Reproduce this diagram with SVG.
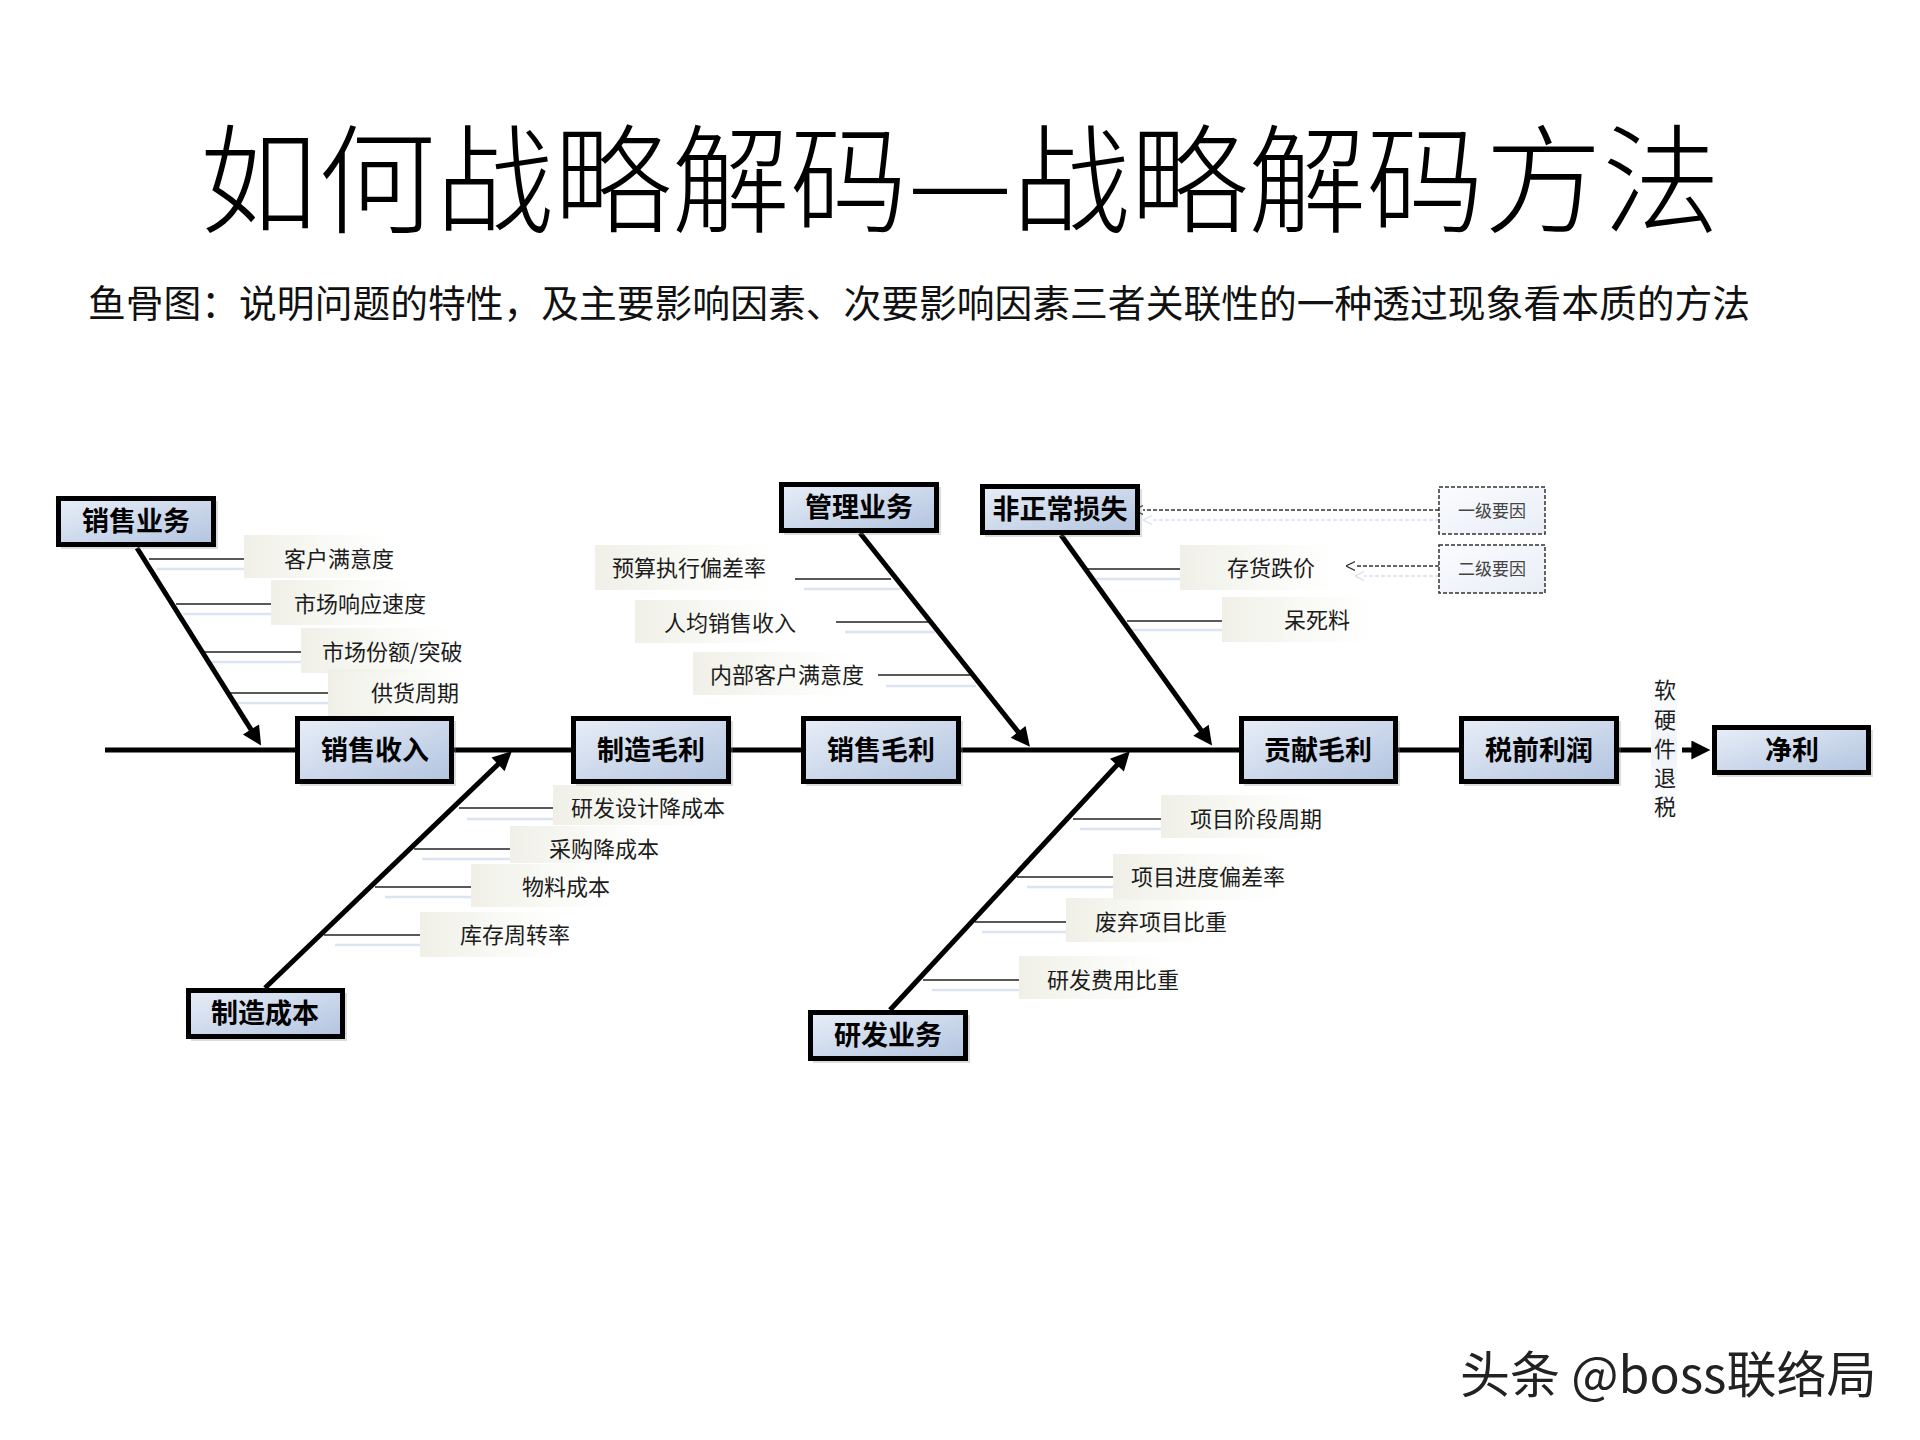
<svg xmlns="http://www.w3.org/2000/svg" width="1920" height="1440" viewBox="0 0 1920 1440">
<defs>
<style>
.t{font-family:"Noto Sans CJK SC","Liberation Sans",sans-serif;}
.title{font-size:118px;font-weight:300;fill:#000;}
.sub{font-size:38px;fill:#111;}
.box{fill:url(#boxGrad);stroke:#000;stroke-width:5;}
.shadow{fill:#8a8a8a;opacity:0.3;}
.bt{font-size:27px;font-weight:bold;fill:#000;text-anchor:middle;}
.lb{font-size:22px;fill:#1c1c1c;}
.lbg{fill:url(#labelGrad);}
.bl{stroke:#222;stroke-width:1.5;}
.bs{stroke:#dbe4f1;stroke-width:2.5;}
.bone{stroke:#000;stroke-width:5;fill:none;marker-end:url(#ah);}
.spine{stroke:#000;stroke-width:5;fill:none;}
.leg{fill:url(#legGrad);stroke:#333;stroke-width:1.5;stroke-dasharray:4 2;}
.lt{font-size:17px;fill:#444;text-anchor:middle;}
.dl{stroke:#333;stroke-width:1.3;stroke-dasharray:4 2;fill:none;marker-end:url(#chev);}
.dls{stroke:#d5e0f0;stroke-width:1.5;stroke-dasharray:4 2;fill:none;marker-end:url(#chevs);}
.wm{font-size:50px;fill:#222;}
</style>
<linearGradient id="boxGrad" x1="0" y1="0" x2="1" y2="1">
<stop offset="0" stop-color="#e8eef8"/>
<stop offset="1" stop-color="#b2c4df"/>
</linearGradient>
<linearGradient id="labelGrad" x1="0" y1="0" x2="1" y2="0">
<stop offset="0" stop-color="#efefe6" stop-opacity="0.95"/>
<stop offset="0.6" stop-color="#f7f7f2" stop-opacity="0.6"/>
<stop offset="1" stop-color="#ffffff" stop-opacity="0"/>
</linearGradient>
<linearGradient id="legGrad" x1="0" y1="0" x2="1" y2="1">
<stop offset="0" stop-color="#fbfcfe"/>
<stop offset="1" stop-color="#e8edf6"/>
</linearGradient>
<linearGradient id="vGrad" x1="0" y1="0" x2="0" y2="1">
<stop offset="0" stop-color="#ffffff"/>
<stop offset="0.5" stop-color="#eef2f8"/>
<stop offset="1" stop-color="#ffffff"/>
</linearGradient>
<marker id="ah" viewBox="0 0 10 10" refX="4.55" refY="5" markerUnits="userSpaceOnUse" markerWidth="24" markerHeight="19" orient="auto">
<path d="M0,0 L10,5 L0,10 z" fill="#000"/>
</marker>
<marker id="chev" viewBox="0 0 10 10" refX="0" refY="5" markerUnits="userSpaceOnUse" markerWidth="9" markerHeight="13" orient="auto-start-reverse">
<path d="M0,0 L10,5 L0,10" fill="none" stroke="#333" stroke-width="1.5"/>
</marker>
<marker id="chevs" viewBox="0 0 10 10" refX="0" refY="5" markerUnits="userSpaceOnUse" markerWidth="9" markerHeight="13" orient="auto-start-reverse">
<path d="M0,0 L10,5 L0,10" fill="none" stroke="#d5e0f0" stroke-width="1.5"/>
</marker>
</defs>
<rect width="1920" height="1440" fill="#fff"/>

<text class="t title" x="960" y="224" text-anchor="middle">如何战略解码—战略解码方法</text>
<text class="t sub" x="88" y="317" textLength="1662" lengthAdjust="spacingAndGlyphs">鱼骨图：说明问题的特性，及主要影响因素、次要影响因素三者关联性的一种透过现象看本质的方法</text>

<g id="sub-branches">
<g id="sales-subs">
<rect class="lbg" x="244" y="535" width="164" height="43"/>
<line class="bs" x1="157" y1="569" x2="244" y2="569"/><line class="bl" x1="149" y1="559" x2="244" y2="559"/>
<text class="t lb" x="284" y="567">客户满意度</text>
<rect class="lbg" x="271" y="580" width="160" height="45"/>
<line class="bs" x1="183" y1="614" x2="271" y2="614"/><line class="bl" x1="176" y1="604" x2="271" y2="604"/>
<text class="t lb" x="294" y="612">市场响应速度</text>
<rect class="lbg" x="301" y="628" width="170" height="45"/>
<line class="bs" x1="212" y1="662" x2="301" y2="662"/><line class="bl" x1="204" y1="652" x2="301" y2="652"/>
<text class="t lb" x="322" y="660">市场份额/突破</text>
<rect class="lbg" x="328" y="669" width="156" height="48"/>
<line class="bs" x1="236" y1="703" x2="328" y2="703"/><line class="bl" x1="229" y1="693" x2="328" y2="693"/>
<text class="t lb" x="371" y="701">供货周期</text>
</g>
<g id="mfg-subs">
<rect class="lbg" x="553" y="785" width="192" height="40"/>
<line class="bs" x1="467" y1="819" x2="553" y2="819"/><line class="bl" x1="459" y1="808" x2="553" y2="808"/>
<text class="t lb" x="571" y="816">研发设计降成本</text>
<rect class="lbg" x="510" y="826" width="160" height="37"/>
<line class="bs" x1="422" y1="859" x2="510" y2="859"/><line class="bl" x1="414" y1="849" x2="510" y2="849"/>
<text class="t lb" x="549" y="857">采购降成本</text>
<rect class="lbg" x="471" y="864" width="160" height="43"/>
<line class="bs" x1="385" y1="897" x2="471" y2="897"/><line class="bl" x1="375" y1="887" x2="471" y2="887"/>
<text class="t lb" x="522" y="895">物料成本</text>
<rect class="lbg" x="420" y="912" width="160" height="45"/>
<line class="bs" x1="335" y1="945" x2="420" y2="945"/><line class="bl" x1="324" y1="935" x2="420" y2="935"/>
<text class="t lb" x="460" y="943">库存周转率</text>
</g>
<g id="mgmt-subs">
<rect class="lbg" x="595" y="545" width="200" height="45"/>
<line class="bs" x1="804" y1="589" x2="901" y2="589"/><line class="bl" x1="795" y1="579" x2="891" y2="579"/>
<text class="t lb" x="612" y="576">预算执行偏差率</text>
<rect class="lbg" x="635" y="600" width="170" height="43"/>
<line class="bs" x1="845" y1="632" x2="935" y2="632"/><line class="bl" x1="836" y1="622" x2="929" y2="622"/>
<text class="t lb" x="664" y="631">人均销售收入</text>
<rect class="lbg" x="693" y="652" width="177" height="43"/>
<line class="bs" x1="886" y1="686" x2="976" y2="686"/><line class="bl" x1="878" y1="675" x2="970" y2="675"/>
<text class="t lb" x="710" y="683">内部客户满意度</text>
</g>
<g id="loss-subs">
<rect class="lbg" x="1180" y="545" width="175" height="45"/>
<line class="bs" x1="1090" y1="579" x2="1180" y2="579"/><line class="bl" x1="1087" y1="569" x2="1180" y2="569"/>
<text class="t lb" x="1227" y="576">存货跌价</text>
<rect class="lbg" x="1222" y="597" width="166" height="45"/>
<line class="bs" x1="1132" y1="630" x2="1222" y2="630"/><line class="bl" x1="1127" y1="621" x2="1222" y2="621"/>
<text class="t lb" x="1284" y="628">呆死料</text>
</g>
<g id="rd-subs">
<rect class="lbg" x="1161" y="795" width="175" height="43"/>
<line class="bs" x1="1080" y1="829" x2="1161" y2="829"/><line class="bl" x1="1073" y1="819" x2="1161" y2="819"/>
<text class="t lb" x="1190" y="827">项目阶段周期</text>
<rect class="lbg" x="1113" y="854" width="188" height="46"/>
<line class="bs" x1="1027" y1="887" x2="1113" y2="887"/><line class="bl" x1="1017" y1="877" x2="1113" y2="877"/>
<text class="t lb" x="1131" y="885">项目进度偏差率</text>
<rect class="lbg" x="1066" y="898" width="168" height="44"/>
<line class="bs" x1="982" y1="932" x2="1066" y2="932"/><line class="bl" x1="975" y1="922" x2="1066" y2="922"/>
<text class="t lb" x="1095" y="930">废弃项目比重</text>
<rect class="lbg" x="1019" y="956" width="166" height="43"/>
<line class="bs" x1="932" y1="990" x2="1019" y2="990"/><line class="bl" x1="923" y1="980" x2="1019" y2="980"/>
<text class="t lb" x="1047" y="988">研发费用比重</text>
</g>
</g>

<g id="connectors">
<line class="spine" x1="105" y1="750" x2="1652" y2="750"/>
<line class="bone" x1="137" y1="548" x2="255.6" y2="736.8"/>
<line class="bone" x1="265" y1="988" x2="504.3" y2="758.3"/>
<line class="bone" x1="860" y1="533" x2="1023.5" y2="738.6"/>
<line class="bone" x1="1061" y1="535" x2="1206" y2="737.2"/>
<line class="bone" x1="890" y1="1010" x2="1122.8" y2="758.8"/>
<line class="bone" x1="1682" y1="750" x2="1700" y2="750"/>
<line class="dls" x1="1439" y1="520" x2="1152" y2="520"/>
<line class="dl" x1="1439" y1="510" x2="1143" y2="510"/>
<line class="dls" x1="1439" y1="576" x2="1364" y2="576"/>
<line class="dl" x1="1439" y1="566" x2="1355" y2="566"/>
</g>

<g id="node-xiaoshouyewu"><rect class="shadow" x="61" y="501" width="157" height="48"/><rect class="box" x="58.5" y="498.5" width="155" height="46"/><text class="t bt" x="136" y="531">销售业务</text></g>
<g id="node-guanliyewu"><rect class="shadow" x="784" y="487" width="157" height="48"/><rect class="box" x="781.5" y="484.5" width="155" height="46"/><text class="t bt" x="859" y="517">管理业务</text></g>
<g id="node-feizhengchang"><rect class="shadow" x="985" y="489" width="157" height="48"/><rect class="box" x="982.5" y="486.5" width="155" height="46"/><text class="t bt" x="1060" y="519">非正常损失</text></g>
<g id="node-zhizaochengben"><rect class="shadow" x="191" y="993" width="156" height="48"/><rect class="box" x="188.5" y="990.5" width="154" height="46"/><text class="t bt" x="265" y="1023">制造成本</text></g>
<g id="node-yanfayewu"><rect class="shadow" x="813" y="1015" width="157" height="48"/><rect class="box" x="810.5" y="1012.5" width="155" height="46"/><text class="t bt" x="888" y="1045">研发业务</text></g>

<g id="node-xiaoshoushouru"><rect class="shadow" x="300" y="721" width="156" height="65"/><rect class="box" x="297.5" y="718.5" width="154" height="63"/><text class="t bt" x="375" y="760">销售收入</text></g>
<g id="node-zhizaomaoli"><rect class="shadow" x="576" y="721" width="157" height="65"/><rect class="box" x="573.5" y="718.5" width="155" height="63"/><text class="t bt" x="651" y="760">制造毛利</text></g>
<g id="node-xiaoshoumaoli"><rect class="shadow" x="806" y="721" width="157" height="65"/><rect class="box" x="803.5" y="718.5" width="155" height="63"/><text class="t bt" x="881" y="760">销售毛利</text></g>
<g id="node-gongxianmaoli"><rect class="shadow" x="1244" y="721" width="156" height="65"/><rect class="box" x="1241.5" y="718.5" width="154" height="63"/><text class="t bt" x="1318" y="760">贡献毛利</text></g>
<g id="node-shuiqianlirun"><rect class="shadow" x="1464" y="721" width="157" height="65"/><rect class="box" x="1461.5" y="718.5" width="155" height="63"/><text class="t bt" x="1539" y="760">税前利润</text></g>
<g id="node-jingli"><rect class="shadow" x="1717" y="730" width="156" height="47"/><rect class="box" x="1714.5" y="727.5" width="154" height="45"/><text class="t bt" x="1792" y="760">净利</text></g>

<g id="node-tuishui">
<rect x="1651" y="675" width="26" height="147" fill="url(#vGrad)"/>
<text class="t lb" text-anchor="middle"><tspan x="1665" y="698">软</tspan><tspan x="1665" y="728">硬</tspan><tspan x="1665" y="757">件</tspan><tspan x="1665" y="786">退</tspan><tspan x="1665" y="815">税</tspan></text>
</g>

<g id="legend-1"><rect class="leg" x="1439" y="487" width="106" height="47"/><text class="t lt" x="1492" y="517">一级要因</text></g>
<g id="legend-2"><rect class="leg" x="1439" y="545" width="106" height="48"/><text class="t lt" x="1492" y="575">二级要因</text></g>

<text class="t wm" x="1460" y="1393">头条 @boss联络局</text>
</svg>
